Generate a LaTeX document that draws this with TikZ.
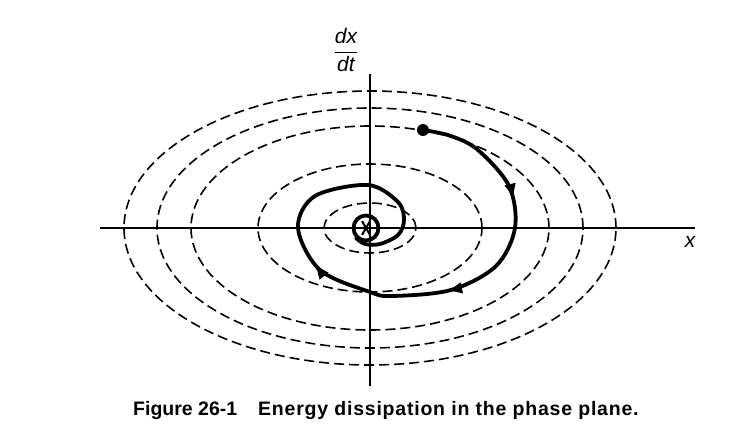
\documentclass[tikz,border=0pt]{standalone}
\usepackage{amsmath}
\usepackage{fontspec}
\setmainfont{Liberation Sans}
\usetikzlibrary{arrows.meta,decorations.markings}

\begin{document}
\begin{tikzpicture}[
  x=1pt, y=1pt,
  axis/.style={line width=2.3pt},
  level/.style={line width=1.6pt, dash pattern=on 10pt off 5pt},
  orbit/.style={line width=3.8pt, line cap=round, line join=round},
  flow/.style={postaction={decorate}, decoration={markings,
      mark=at position 0.19 with {\arrow{Latex[length=16pt,width=12pt]}},
      mark=at position 0.39 with {\arrow{Latex[length=16pt,width=12pt]}},
      mark=at position 0.61 with {\arrow{Latex[length=16pt,width=12pt]}}}},
  label/.style={font=\fontsize{21}{23}\selectfont\itshape, inner sep=0pt},
  caption/.style={font=\fontsize{19.5}{22}\selectfont\bfseries, inner sep=0pt,
    anchor=base west}
]
  \useasboundingbox (-370,-217) rectangle (367,228);

  % constant-energy curves
  \foreach \a/\b in {246/137, 213/120, 179/102, 112/64, 46/25}
    \draw[level] (0,0) ellipse [x radius=\a, y radius=\b];

  % phase plane axes
  \draw[axis] (-270,0) -- (325,0);
  \draw[axis] (0,-158) -- (0,154);
  \node[label] (xlab) at (320,-14) {x};
  \node[label] (vlab) at (-24,178) {$\dfrac{\textit{dx}}{\textit{dt}}$};

  % damped trajectory
  \coordinate (start) at (53,98);
  \coordinate (rest) at (-4,0);
  \draw[orbit, flow]
    plot[smooth, tension=0.55] coordinates {
      (53,98) (81,92) (108,78) (139,42) (145,0) (126,-38) (81,-62)
      (22,-68) (0,-64) (-50,-42) (-72,0) (-55,32) (-2,43) (28,26)
      (34,8) (28,-7) (10,-16) (-5,-16) (-14,-10)};
  \fill (start) circle (6);
  \draw[orbit] (rest) circle (12.5);
  \foreach \ang in {0,60,120}
    \draw[line width=2pt] (rest) ++(\ang:8) -- ++(\ang+180:16);

  % caption
  \node[caption] (fig) at (-237,-187) {Figure 26-1};
  \node[caption] (cap) at (-112,-187)
    {\addfontfeatures{LetterSpace=4}Energy dissipation in the phase plane.};
\end{tikzpicture}
\end{document}
